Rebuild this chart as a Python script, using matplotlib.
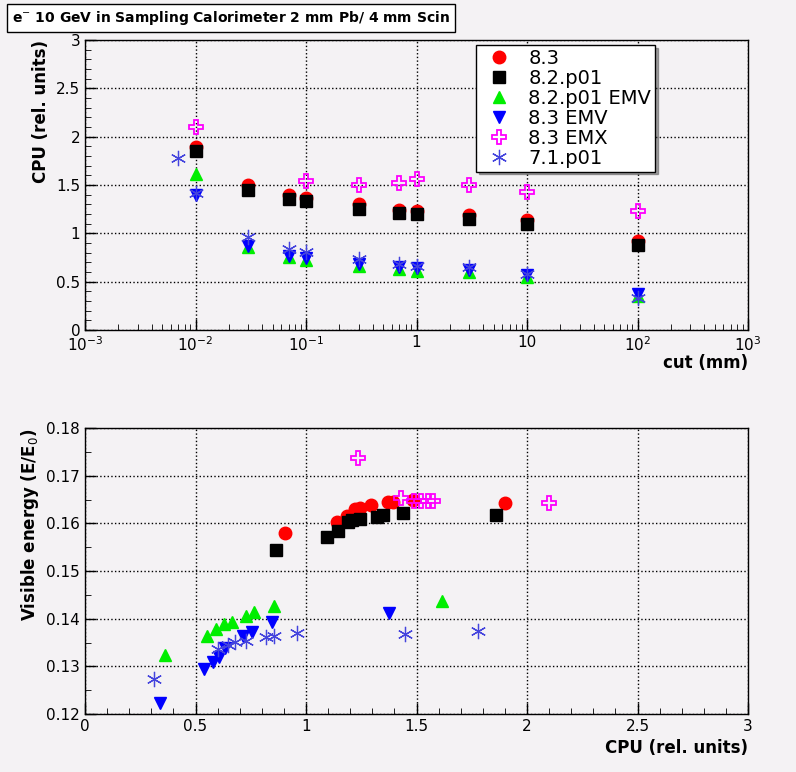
import matplotlib
matplotlib.use("Agg")
import matplotlib.pyplot as plt
from matplotlib.ticker import LogLocator, MultipleLocator, FixedLocator, NullFormatter

cuts = [0.01, 0.03, 0.07, 0.1, 0.3, 0.7, 1, 3, 10, 100]
cpu_83 = [1.89, 1.50, 1.40, 1.37, 1.30, 1.24, 1.23, 1.19, 1.14, 0.92]
cpu_82 = [1.85, 1.45, 1.36, 1.33, 1.25, 1.21, 1.20, 1.15, 1.10, 0.88]
cpu_82emv = [1.61, 0.86, 0.76, 0.72, 0.66, 0.63, 0.61, 0.60, 0.55, 0.35]
cpu_83emv = [1.40, 0.87, 0.77, 0.74, 0.68, 0.65, 0.64, 0.62, 0.57, 0.37]
cuts_emx = [0.01, 0.1, 0.3, 0.7, 1, 3, 10, 100]
cpu_83emx = [2.10, 1.54, 1.50, 1.52, 1.56, 1.50, 1.43, 1.23]
cuts_71 = [0.007, 0.01, 0.03, 0.07, 0.1, 0.3, 0.7, 1, 3, 10, 100]
cpu_71 = [1.78, 1.42, 0.96, 0.84, 0.81, 0.73, 0.68, 0.66, 0.65, 0.58, 0.33]

b_cpu_83 = [1.90, 1.485, 1.395, 1.37, 1.295, 1.245, 1.22, 1.185, 1.14, 0.905]
b_e_83 = [0.1642, 0.1649, 0.1645, 0.1645, 0.1638, 0.1632, 0.1630, 0.1615, 0.1603, 0.1579]
b_cpu_82 = [1.86, 1.44, 1.35, 1.32, 1.245, 1.21, 1.19, 1.145, 1.095, 0.864]
b_e_82 = [0.1617, 0.1621, 0.1617, 0.1614, 0.1609, 0.1606, 0.1603, 0.1584, 0.1571, 0.1544]
b_cpu_82emv = [1.615, 0.855, 0.765, 0.73, 0.665, 0.63, 0.593, 0.553, 0.362]
b_e_82emv = [0.1437, 0.1426, 0.1413, 0.1406, 0.1392, 0.1389, 0.1378, 0.1364, 0.1324]
b_cpu_83emv = [1.375, 0.846, 0.756, 0.716, 0.633, 0.606, 0.578, 0.538, 0.34]
b_e_83emv = [0.1412, 0.1393, 0.1372, 0.1364, 0.1338, 0.1320, 0.1309, 0.1294, 0.1223]
b_cpu_83emx = [1.235, 1.43, 1.49, 1.52, 1.55, 1.575, 2.10]
b_e_83emx = [0.1737, 0.1653, 0.1647, 0.1647, 0.1647, 0.1647, 0.1642]
b_cpu_71 = [1.778, 1.45, 0.96, 0.857, 0.82, 0.73, 0.68, 0.647, 0.60, 0.312]
b_e_71 = [0.1374, 0.1368, 0.1370, 0.1364, 0.1361, 0.1353, 0.1351, 0.1345, 0.1336, 0.1273]

labels = ["8.3", "8.2.p01", "8.2.p01 EMV", "8.3 EMV", "8.3 EMX", "7.1.p01"]
bg = "#f4f2f4"
W, H = 796, 772
fig = plt.figure(figsize=(W/100, H/100), dpi=100, facecolor=bg)

def ax_at(x0, y0, x1, y1):
    return fig.add_axes([x0/W, 1-y1/H, (x1-x0)/W, (y1-y0)/H], facecolor=bg)

styles = [
    dict(marker="o", color="red", ms=9, ls="none"),
    dict(marker="s", color="black", ms=9, ls="none"),
    dict(marker="^", color="#00ee00", ms=8, ls="none"),
    dict(marker="v", color="blue", ms=9, ls="none"),
    dict(marker="P", mfc="none", mec="#ff00ff", ms=10, ls="none", mew=1.3),
    dict(marker=(6, 2, 0), color="#4444dd", ms=11, ls="none", mew=0.9),
]

def style(ax):
    ax.grid(True, ls=":", color="black", lw=1)
    ax.tick_params(direction="in", top=False, right=False, length=8, width=1, labelsize=11)
    ax.tick_params(which="minor", direction="in", length=4)
    for s in ax.spines.values():
        s.set_linewidth(1)

ax1 = ax_at(85, 40, 748, 330)
tops = [(cuts, cpu_83), (cuts, cpu_82), (cuts, cpu_82emv), (cuts, cpu_83emv), (cuts_emx, cpu_83emx), (cuts_71, cpu_71)]
handles = []
for (xs, ys), st, lb in zip(tops, styles, labels):
    h, = ax1.plot(xs, ys, label=lb, **st)
    handles.append(h)
ax1.set_xscale("log")
ax1.set_xlim(1e-3, 1e3)
ax1.set_ylim(0, 3)
ax1.yaxis.set_major_locator(MultipleLocator(0.5))
ax1.yaxis.set_minor_locator(MultipleLocator(0.1))
ax1.set_xticks([1e-3, 1e-2, 1e-1, 1, 10, 1e2, 1e3])
ax1.set_xticklabels(["$10^{-3}$", "$10^{-2}$", "$10^{-1}$", "1", "10", "$10^{2}$", "$10^{3}$"])
ax1.xaxis.set_minor_locator(LogLocator(subs=range(2, 10)))
ax1.xaxis.set_minor_formatter(NullFormatter())
ax1.set_yticks([0, 0.5, 1, 1.5, 2, 2.5, 3])
ax1.set_yticklabels(["0", "0.5", "1", "1.5", "2", "2.5", "3"])
style(ax1)
ax1.set_xlabel("cut (mm)", fontsize=12, fontweight="bold", loc="right", labelpad=0)
ax1.set_ylabel("CPU (rel. units)", fontsize=12, fontweight="bold", loc="top")
leg = ax1.legend(handles=handles, loc="upper left", bbox_to_anchor=((476-85)/663, 1-(45-40)/290),
                 fontsize=14, frameon=True, fancybox=False, shadow=True, borderaxespad=0,
                 handletextpad=0.5, labelspacing=0.05, borderpad=0.2)
leg.get_frame().set_edgecolor("black")
leg.get_frame().set_facecolor("white")
leg.get_frame().set_linewidth(1)

ax2 = ax_at(85, 428, 748, 714)
bots = [(b_cpu_83, b_e_83), (b_cpu_82, b_e_82), (b_cpu_82emv, b_e_82emv), (b_cpu_83emv, b_e_83emv), (b_cpu_83emx, b_e_83emx), (b_cpu_71, b_e_71)]
for (xs, ys), st in zip(bots, styles):
    ax2.plot(xs, ys, **st)
ax2.set_xlim(0, 3)
ax2.set_ylim(0.12, 0.18)
ax2.set_xticks([0, 0.5, 1, 1.5, 2, 2.5, 3])
ax2.set_xticklabels(["0", "0.5", "1", "1.5", "2", "2.5", "3"])
ax2.xaxis.set_minor_locator(MultipleLocator(0.1))
ax2.set_yticks([0.12, 0.13, 0.14, 0.15, 0.16, 0.17, 0.18])
ax2.set_yticklabels(["0.12", "0.13", "0.14", "0.15", "0.16", "0.17", "0.18"])
ax2.yaxis.set_minor_locator(MultipleLocator(0.005))
style(ax2)
ax2.set_xlabel("CPU (rel. units)", fontsize=12, fontweight="bold", loc="right")
ax2.set_ylabel("Visible energy (E/E$_0$)", fontsize=12, fontweight="bold", loc="top")

fig.text(12/W, 1-18/H, "e$^{-}$ 10 GeV in Sampling Calorimeter 2 mm Pb/ 4 mm Scin",
         fontsize=10, fontweight="bold", va="center", ha="left",
         bbox=dict(boxstyle="square,pad=0.35", fc="white", ec="black", lw=1))
fig.savefig("out.png", dpi=100, facecolor=bg)
